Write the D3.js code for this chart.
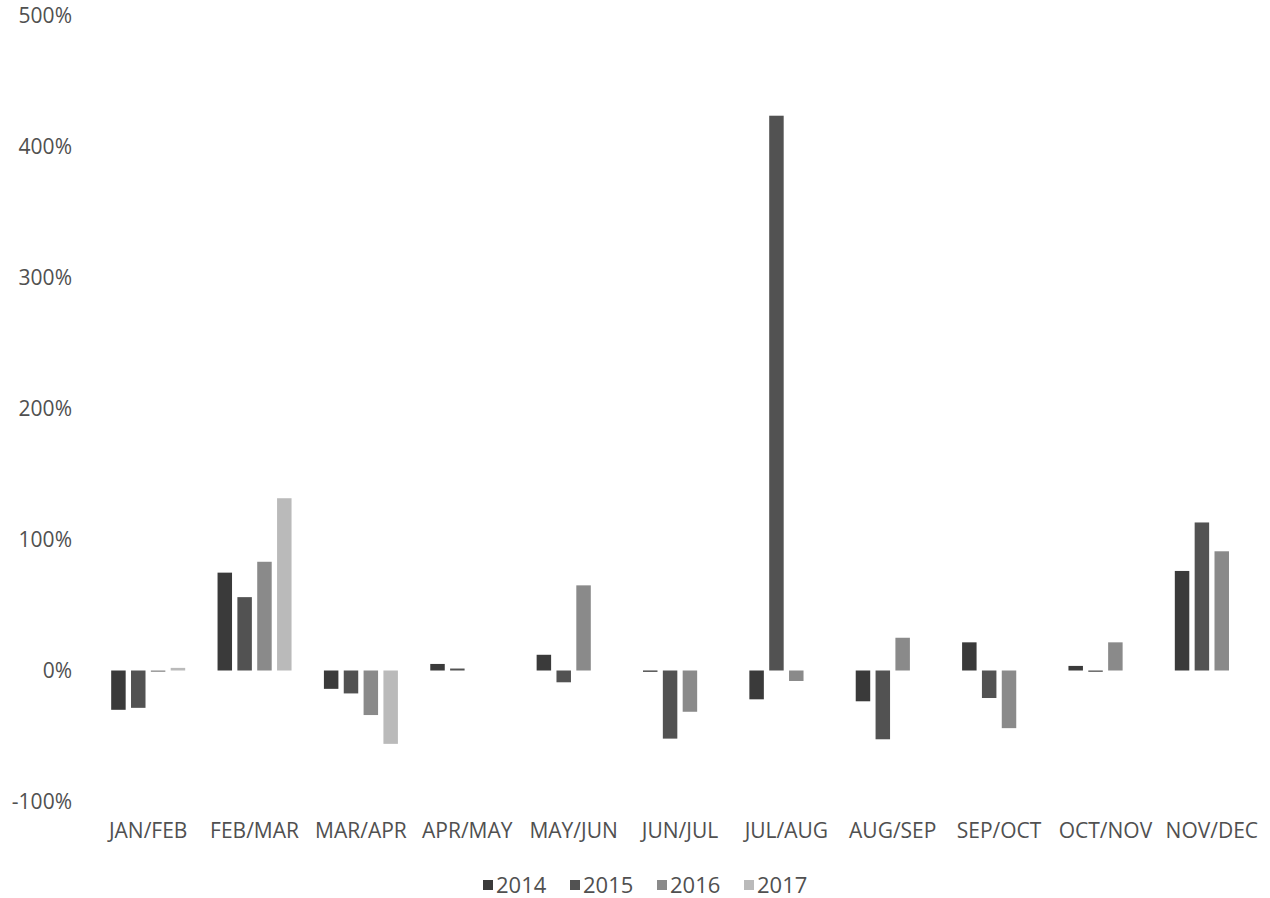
<!DOCTYPE html>
<html>
<head>
<meta charset="utf-8">
<script src="https://cdn.jsdelivr.net/npm/d3@7"></script>
<style>
  html, body { margin: 0; padding: 0; background: #ffffff; }
  svg { display: block; }
  text { font-family: "Open Sans", "Liberation Sans", sans-serif; fill: #505050; }
</style>
</head>
<body>
<svg id="chart" width="1270" height="898"></svg>
<script>
// ---- data ----
const categories = ["JAN/FEB","FEB/MAR","MAR/APR","APR/MAY","MAY/JUN","JUN/JUL","JUL/AUG","AUG/SEP","SEP/OCT","OCT/NOV","NOV/DEC"];
const seriesNames = ["2014","2015","2016","2017"];
const values2014 = [-30, 74.7, -14, 5, 12, -1, -22, -23.5, 21.5, 3.5, 76];
const values2015 = [-28.5, 56, -17.5, 1.5, -9, -52, 423.5, -52.5, -21, -1, 113];
const values2016 = [-1, 83, -34, null, 65, -31.5, -8, 25, -44, 21.5, 91];
const values2017 = [2, 131.5, -56, null, null, null, null, null, null, null, null];
const yTicks = [-100, 0, 100, 200, 300, 400, 500];
const seriesColors = ["#3a3a3a", "#525252", "#8a8a8a", "#bababa"];

const seriesValues = [values2014, values2015, values2016, values2017];

const svg = d3.select("#chart");

const x0 = d3.scaleBand().domain(categories).range([95, 1265]).paddingInner(0).paddingOuter(0);
const groupWidth = 74;
const x1 = d3.scaleBand().domain(seriesNames).range([0, groupWidth]).paddingInner(0.27).paddingOuter(0);
const y = d3.scaleLinear().domain([-100, 500]).range([801.5, 15.5]);
const color = d3.scaleOrdinal().domain(seriesNames).range(seriesColors);

// bars
const barData = [];
seriesNames.forEach((s, si) => {
  categories.forEach((c, ci) => {
    const v = seriesValues[si][ci];
    if (v !== null && v !== undefined) barData.push({ cat: c, series: s, value: v });
  });
});

svg.append("g").selectAll("rect")
  .data(barData)
  .join("rect")
  .attr("x", d => x0(d.cat) + (x0.bandwidth() - groupWidth) / 2 + x1(d.series))
  .attr("width", x1.bandwidth())
  .attr("y", d => y(Math.max(0, d.value)))
  .attr("height", d => Math.max(1, Math.abs(y(d.value) - y(0))))
  .attr("fill", d => color(d.series));

// y axis labels
const yAxis = d3.axisLeft(y).tickValues(yTicks).tickSize(0).tickPadding(0)
  .tickFormat(d => d + "%");
const gy = svg.append("g").attr("transform", "translate(72,0)").call(yAxis);
gy.select(".domain").remove();
gy.selectAll("text").attr("font-size", 21).attr("fill", "#505050")
  .style("font-family", '"Open Sans", sans-serif');

// x axis labels
const xAxis = d3.axisBottom(x0).tickSize(0).tickPadding(0);
const gx = svg.append("g").attr("transform", "translate(0,823)").call(xAxis);
gx.select(".domain").remove();
gx.selectAll("text").attr("font-size", 21).attr("fill", "#505050")
  .style("font-family", '"Open Sans", sans-serif');

// legend
const legend = svg.append("g").attr("transform", "translate(483,880)");
const item = legend.selectAll("g").data(seriesNames).join("g")
  .attr("transform", (d, i) => `translate(${i * 87},0)`);
item.append("rect").attr("width", 10).attr("height", 10).attr("fill", d => color(d));
item.append("text").attr("x", 13).attr("y", 13).attr("font-size", 22).text(d => d);
</script>
</body>
</html>
